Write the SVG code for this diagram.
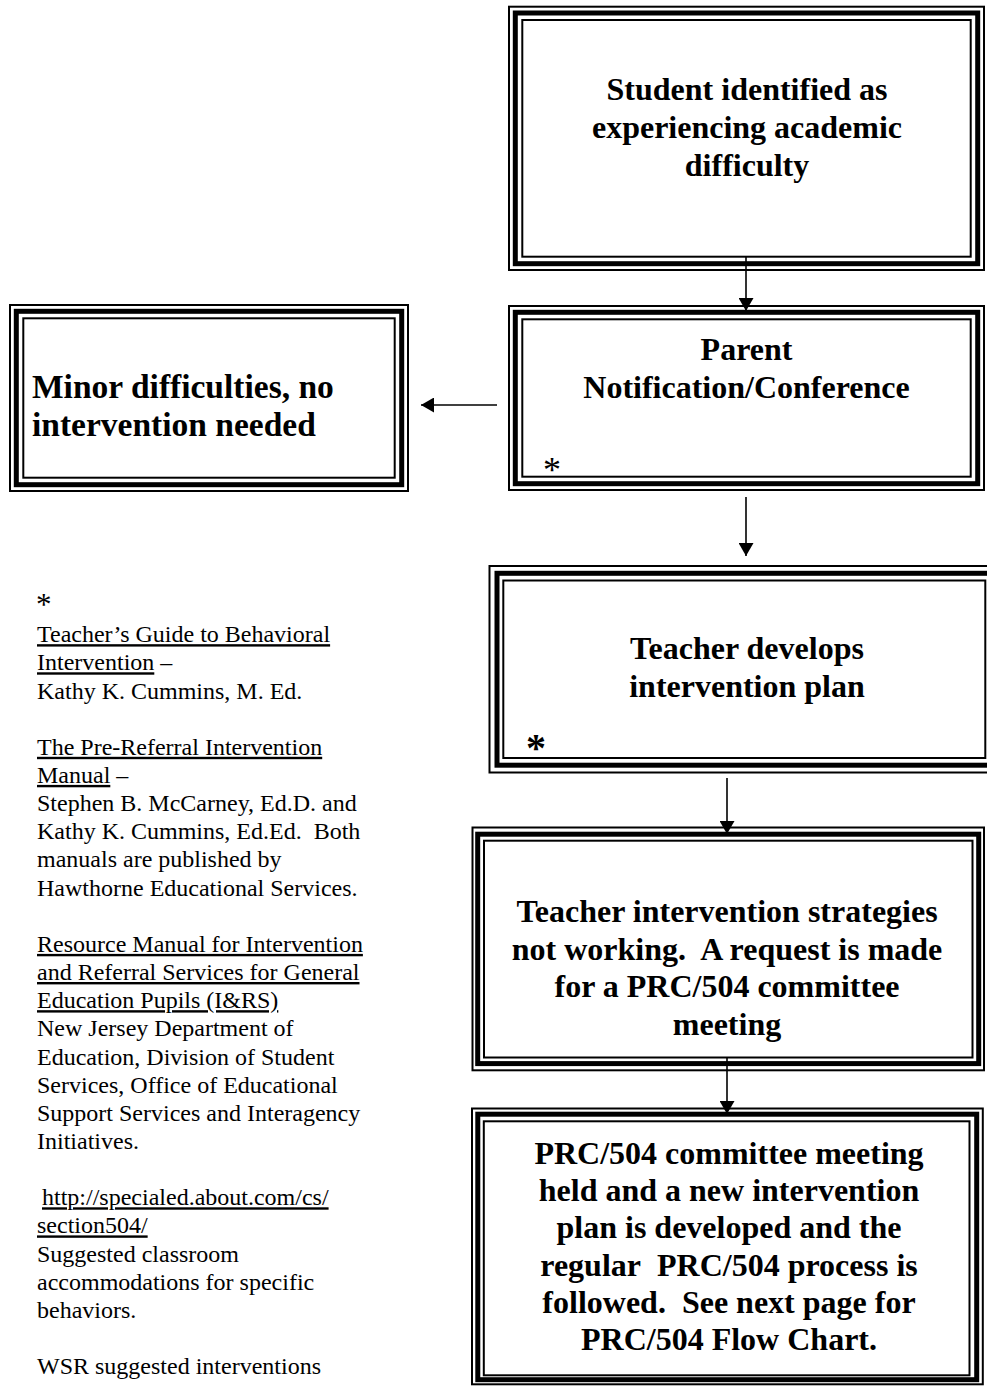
<svg xmlns="http://www.w3.org/2000/svg" width="987" height="1387" viewBox="0 0 987 1387">
<style>
.o{fill:none;stroke:#000;stroke-width:2}
.k{fill:none;stroke:#000;stroke-width:5}
.i{fill:none;stroke:#000;stroke-width:2}
.t{font-family:"Liberation Serif","Times New Roman",serif;font-weight:bold;font-size:32px;fill:#000;text-anchor:middle}
.tl{font-family:"Liberation Serif","Times New Roman",serif;font-weight:bold;font-size:33.5px;fill:#000}
.n{font-family:"Liberation Serif","Times New Roman",serif;font-size:24px;fill:#000}
.u{text-decoration:underline}
.c{fill:none;stroke:#000;stroke-width:1.6}
</style>
<defs>
<marker id="ah" markerUnits="userSpaceOnUse" markerWidth="15" markerHeight="15" refX="13" refY="7.5" orient="auto" viewBox="0 0 15 15">
<path d="M0,0 L13,7.5 L0,15 z" fill="#000"/>
</marker>
</defs>
<rect width="987" height="1387" fill="#fff"/>

<g id="connectors">
<line class="c" x1="746" y1="256" x2="746" y2="311" marker-end="url(#ah)"/>
<line class="c" x1="497" y1="405" x2="421" y2="405" marker-end="url(#ah)"/>
<line class="c" x1="746" y1="497" x2="746" y2="556" marker-end="url(#ah)"/>
<line class="c" x1="727" y1="778" x2="727" y2="834" marker-end="url(#ah)"/>
<line class="c" x1="727" y1="1058" x2="727" y2="1114" marker-end="url(#ah)"/>
</g>

<g id="node-student">
<rect class="o" x="509" y="6.7" width="475" height="263.3"/>
<rect class="k" x="515.3" y="13" width="462.4" height="250.7"/>
<rect class="i" x="522.3" y="20" width="448.4" height="236.7"/>
<text class="t" x="747" y="100">Student identified as</text>
<text class="t" x="747" y="138">experiencing academic</text>
<text class="t" x="747" y="176">difficulty</text>
</g>

<g id="node-parent">
<rect class="o" x="509" y="306" width="475" height="184"/>
<rect class="k" x="515.3" y="312.3" width="462.4" height="171.4"/>
<rect class="i" x="522.3" y="319.3" width="448.4" height="157.4"/>
<text class="t" x="746.5" y="360">Parent</text>
<text class="t" x="746.5" y="398">Notification/Conference</text>
<text class="n" x="543" y="482" style="font-size:36px">*</text>
</g>

<g id="node-minor">
<rect class="o" x="10" y="305" width="398" height="186"/>
<rect class="k" x="16.3" y="311.3" width="385.4" height="173.4"/>
<rect class="i" x="23.3" y="318.3" width="371.4" height="159.4"/>
<text class="tl" x="32" y="398">Minor difficulties, no</text>
<text class="tl" x="32" y="436">intervention needed</text>
</g>

<g id="node-teacher-plan">
<rect class="o" x="489.5" y="566" width="510" height="206.5"/>
<rect class="k" x="497" y="573.3" width="495" height="191.9"/>
<rect class="i" x="503.3" y="580.5" width="482" height="177.5"/>
<text class="t" x="747" y="659">Teacher develops</text>
<text class="t" x="747" y="697">intervention plan</text>
<text class="n" x="526" y="761" style="font-size:40px;font-weight:bold">*</text>
</g>

<g id="node-request">
<rect class="o" x="472.5" y="827.5" width="511.5" height="242.8"/>
<rect class="k" x="477.7" y="834.2" width="501" height="229.4"/>
<rect class="i" x="484" y="840.7" width="488.5" height="216.8"/>
<text class="t" x="727" y="922">Teacher intervention strategies</text>
<text class="t" x="727" y="960">not working.&#160; A request is made</text>
<text class="t" x="727" y="997">for a PRC/504 committee</text>
<text class="t" x="727" y="1035">meeting</text>
</g>

<g id="node-meeting">
<rect class="o" x="472" y="1108.5" width="510.8" height="275.8"/>
<rect class="k" x="477.8" y="1114.2" width="498.9" height="265.5"/>
<rect class="i" x="483.8" y="1121.3" width="485.7" height="254"/>
<text class="t" x="729" y="1164">PRC/504 committee meeting</text>
<text class="t" x="729" y="1201">held and a new intervention</text>
<text class="t" x="729" y="1238">plan is developed and the</text>
<text class="t" x="729" y="1276">regular&#160; PRC/504 process is</text>
<text class="t" x="729" y="1313">followed.&#160; See next page for</text>
<text class="t" x="729" y="1350">PRC/504 Flow Chart.</text>
</g>

<g id="references">
<text class="n" x="36" y="615" style="font-size:31px">*</text>
<text class="n" x="37" y="642.2"><tspan class="u">Teacher’s Guide to Behavioral</tspan></text>
<text class="n" x="37" y="670.3"><tspan class="u">Intervention</tspan> –</text>
<text class="n" x="37" y="698.5">Kathy K. Cummins, M. Ed.</text>
<text class="n" x="37" y="754.8"><tspan class="u">The Pre-Referral Intervention</tspan></text>
<text class="n" x="37" y="782.9"><tspan class="u">Manual</tspan> –</text>
<text class="n" x="37" y="811.1">Stephen B. McCarney, Ed.D. and</text>
<text class="n" x="37" y="839.2">Kathy K. Cummins, Ed.Ed.&#160; Both</text>
<text class="n" x="37" y="867.4">manuals are published by</text>
<text class="n" x="37" y="895.6">Hawthorne Educational Services.</text>
<text class="n" x="37" y="951.9"><tspan class="u">Resource Manual for Intervention</tspan></text>
<text class="n" x="37" y="980"><tspan class="u">and Referral Services for General</tspan></text>
<text class="n" x="37" y="1008.2"><tspan class="u">Education Pupils (I&amp;RS)</tspan></text>
<text class="n" x="37" y="1036.4">New Jersey Department of</text>
<text class="n" x="37" y="1064.5">Education, Division of Student</text>
<text class="n" x="37" y="1092.7">Services, Office of Educational</text>
<text class="n" x="37" y="1120.8">Support Services and Interagency</text>
<text class="n" x="37" y="1149">Initiatives.</text>
<text class="n" x="42" y="1205.3"><tspan class="u">http://specialed.about.com/cs/</tspan></text>
<text class="n" x="37" y="1233.4"><tspan class="u">section504/</tspan></text>
<text class="n" x="37" y="1261.6">Suggested classroom</text>
<text class="n" x="37" y="1289.7">accommodations for specific</text>
<text class="n" x="37" y="1317.9">behaviors.</text>
<text class="n" x="37" y="1374">WSR suggested interventions</text>
</g>
</svg>
